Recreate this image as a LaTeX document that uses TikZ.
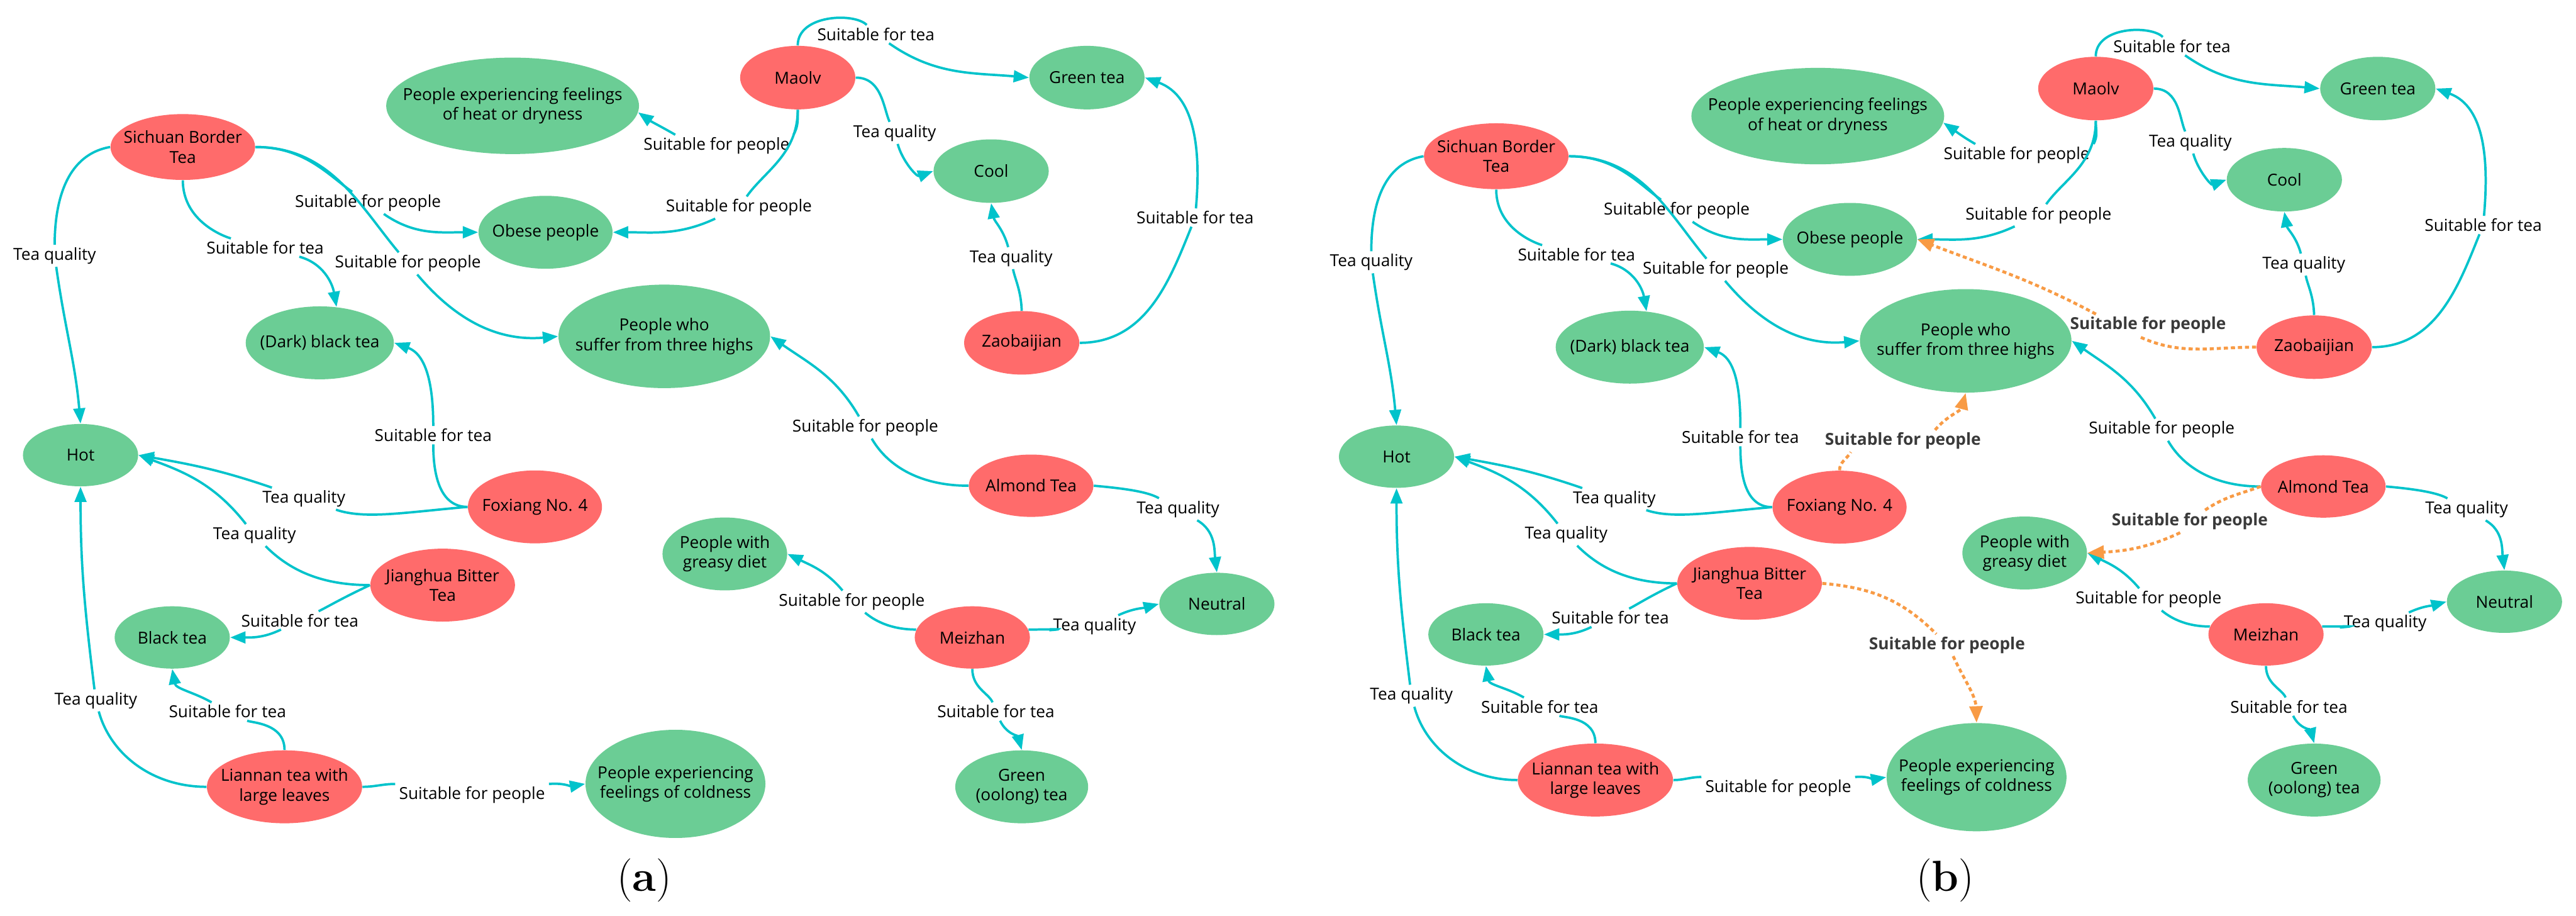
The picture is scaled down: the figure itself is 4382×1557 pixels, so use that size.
\documentclass[tikz,border=0pt]{standalone}
\usepackage{fontspec}
\newfontfamily\diagfont{Open Sans}
\usetikzlibrary{arrows.meta,shapes.geometric}

\definecolor{teared}{HTML}{FF6B6B}
\definecolor{attrgreen}{HTML}{6BCD95}
\definecolor{linkcyan}{HTML}{00C3CB}
\definecolor{inferorange}{HTML}{F89B45}
\definecolor{labgrey}{HTML}{3A3A3A}

\newcommand{\tnfont}{\diagfont\fontsize{8}{9.5}\selectfont}

\tikzset{
  tea/.style={ellipse, fill=teared, text=black, inner xsep=-4mm, inner ysep=0pt, align=center, font=\tnfont},
  attr/.style={tea, fill=attrgreen},
  sz/.style 2 args={minimum width=#1, minimum height=#2},
  rel/.style={font=\tnfont, inner xsep=0.6mm, inner ysep=0.4mm},
  relb/.style={rel, font=\tnfont\bfseries, text=labgrey},
  link/.style={draw=linkcyan, line width=0.4mm, -{Triangle[length=2.6mm,width=2mm]}},
  infer/.style={draw=inferorange, line width=0.5mm, dash pattern=on 0.7mm off 0.5mm, -{Triangle[length=2.8mm,width=2.2mm]}},
}

% one tea knowledge graph, drawn in both panels
\newcommand{\teagraph}{%
  % tea samples
  \node[tea, sz={24.6mm}{11.2mm}] (sich) at (311,1307) {Sichuan Border\\Tea};
  \node[tea, sz={19.6mm}{10.8mm}] (maolv) at (1357,1425) {Maolv};
  \node[tea, sz={19.6mm}{10.8mm}] (zaob) at (1738,974) {Zaobaijian};
  \node[tea, sz={22.8mm}{12.4mm}] (foxiang) at (910,695) {Foxiang No. 4};
  \node[tea, sz={24.6mm}{12.4mm}] (jiang) at (753,562) {Jianghua Bitter\\Tea};
  \node[tea, sz={26.4mm}{12.4mm}] (liannan) at (484,219) {Liannan tea with\\large leaves};
  \node[tea, sz={21.2mm}{10.6mm}] (almond) at (1754,731) {Almond Tea};
  \node[tea, sz={19.6mm}{10.6mm}] (meizhan) at (1654,473) {Meizhan};
  % attributes
  \node[attr, sz={43mm}{16.4mm}] (heat) at (872,1377) {People experiencing feelings\\of heat or dryness};
  \node[attr, sz={22.8mm}{12.4mm}] (obese) at (928,1162) {Obese people};
  \node[attr, sz={25.2mm}{12.4mm}] (dark) at (544,974) {(Dark) black tea};
  \node[attr, sz={36mm}{17.6mm}] (high) at (1130,985) {People who\\suffer from three highs};
  \node[attr, sz={19.6mm}{10.8mm}] (greentea) at (1849,1425) {Green tea};
  \node[attr, sz={19.6mm}{10.8mm}] (cool) at (1686,1266) {Cool};
  \node[attr, sz={19.6mm}{10.6mm}] (hot) at (137,783) {Hot};
  \node[attr, sz={19.6mm}{10.6mm}] (black) at (293,473) {Black tea};
  \node[attr, sz={30.6mm}{18.4mm}] (cold) at (1149,224) {People experiencing\\feelings of coldness};
  \node[attr, sz={21.2mm}{12.4mm}] (greasy) at (1233,615) {People with\\greasy diet};
  \node[attr, sz={19.6mm}{10.6mm}] (neutral) at (2070,530) {Neutral};
  \node[attr, sz={22.6mm}{12.4mm}] (oolong) at (1738,219) {Green\\(oolong) tea};
  % relation labels
  \node[rel] (q1) at (93,1122) {Tea quality};
  \node[rel] (t1) at (451,1136) {Suitable for tea};
  \node[rel] (p1) at (626,1212) {Suitable for people};
  \node[rel] (p2) at (694,1109) {Suitable for people};
  \node[rel] (t2) at (737,817) {Suitable for tea};
  \node[rel] (q2) at (517,709) {Tea quality};
  \node[rel] (q3) at (433,647) {Tea quality};
  \node[rel] (t3) at (510,502) {Suitable for tea};
  \node[rel] (t4) at (387,347) {Suitable for tea};
  \node[rel] (q4) at (163,366) {Tea quality};
  \node[rel] (p3) at (803,205) {Suitable for people};
  \node[rel] (p4) at (1472,830) {Suitable for people};
  \node[rel] (q5) at (2004,691) {Tea quality};
  \node[rel] (p5) at (1449,534) {Suitable for people};
  \node[rel] (q6) at (1862,492) {Tea quality};
  \node[rel] (t5) at (1694,347) {Suitable for tea};
  \node[rel] (t6) at (1490,1499) {Suitable for tea};
  \node[rel] (p6) at (1219,1309) {Suitable for people};
  \node[rel] (p7) at (1257,1204) {Suitable for people};
  \node[rel] (q7) at (1522,1331) {Tea quality};
  \node[rel] (q8) at (1720,1118) {Tea quality};
  \node[rel] (t7) at (2033,1187) {Suitable for tea};
  % relations
  \draw[link] (sich.west) to[out=190,in=90] (q1) to[out=-82,in=95] (hot.north);
  \draw[link] (sich.south) to[out=-90,in=165] (t1) to[out=-15,in=100] (dark.65);
  \draw[link] (sich.east) to[out=0,in=145] (p1) to[out=-35,in=180] (obese.west);
  \draw[link] (sich.east) to[out=0,in=130] (p2) to[out=-50,in=185] (high.west);
  \draw[link] (foxiang.west) to[out=180,in=-90] (t2) to[out=90,in=-20] (dark.east);
  \draw[link] (foxiang.west) to[out=185,in=-19] (q2) to[out=161,in=-10] (hot.east);
  \draw[link] (jiang.west) to[out=180,in=-45] (q3) to[out=128,in=-20] (hot.east);
  \draw[link] (jiang.west) to[out=205,in=26] (t3) to[out=206,in=0] (black.east);
  \draw[link] (liannan.north) to[out=90,in=-25] (t4) to[out=150,in=-80] (black.south);
  \draw[link] (liannan.west) to[out=180,in=-75] (q4) to[out=97,in=-90] (hot.south);
  \draw[link] (liannan.east) to[out=0,in=180] (p3.north west) (p3.north east) to[out=5,in=190] (cold.west);
  \draw[link] (almond.west) to[out=180,in=-60] (p4) to[out=120,in=-35] (high.east);
  \draw[link] (almond.east) to[out=-5,in=150] (q5) to[out=-30,in=97] (neutral.north);
  \draw[link] (meizhan.172) to[out=180,in=-40] (p5) to[out=130,in=-26] (greasy.east);
  \draw[link] (meizhan.8) to[out=0,in=185] (q6) to[out=25,in=195] (neutral.west);
  \draw[link] (meizhan.south) to[out=-90,in=110] (t5) to[out=-65,in=105] (oolong.north);
  \draw[link] (maolv.north) to[out=90,in=135] (t6) to[out=-35,in=175] (greentea.west);
  \draw[link] (maolv.south) to[out=-90,in=60] (p6.north east) (p6.165) to[out=150,in=-35] (heat.-3);
  \draw[link] (maolv.south) to[out=-90,in=55] (p7) to[out=205,in=0] (obese.east);
  \draw[link] (maolv.east) to[out=0,in=115] (q7) to[out=-75,in=200] (cool.west);
  \draw[link] (zaob.north) to[out=92,in=-80] (q8) to[out=105,in=-80] (cool.south);
  \draw[link] (zaob.east) to[out=0,in=-112] (t7) to[out=85,in=-20] (greentea.east);
}

\begin{document}
\begin{tikzpicture}[x=0.1mm,y=0.1mm]
  \useasboundingbox (0,0) rectangle (4382,1557);
  \fill[white] (0,0) rectangle (4382,1557);

  % panel (a)
  \begin{scope}[name prefix=a-]
    \teagraph
  \end{scope}
  % panel (b): same graph plus inferred links
  \begin{scope}[name prefix=b-, shift={(2242,17)}, scale=0.975]
    \teagraph
  \end{scope}

  \node[relb] (o1) at (3654,1004) {Suitable for people};
  \node[relb] (o2) at (3237,807) {Suitable for people};
  \node[relb] (o3) at (3312,460) {Suitable for people};
  \node[relb] (o4) at (3725,670) {Suitable for people};
  \draw[infer] (b-zaob.west) to[out=180,in=-25] (o1.-131) (o1.168) to[out=152,in=-21] (b-obese.east);
  \draw[infer] (b-foxiang.north) to[out=90,in=-120] (o2.-168) (o2.19) to[out=50,in=-105] (b-high.south);
  \draw[infer] (b-jiang.east) to[out=-5,in=135] (o3.134) (o3.-61) to[out=-65,in=92] (b-cold.north);
  \draw[infer] (b-almond.west) to[out=200,in=35] (o4.37) (o4.-131) to[out=205,in=3] (b-greasy.east);

  \node[font=\fontsize{21}{24}\selectfont] (capa) at (1096,60) {(\textbf{a})};
  \node[font=\fontsize{21}{24}\selectfont] (capb) at (3309,60) {(\textbf{b})};
\end{tikzpicture}
\end{document}
